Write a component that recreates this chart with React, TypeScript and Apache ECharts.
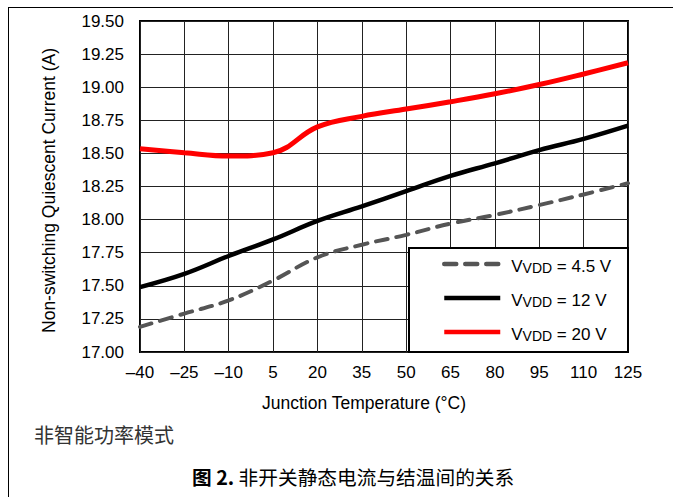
import React, { useEffect, useRef } from "react";
import * as echarts from "echarts";

const categories = ["–40", "–25", "–10", "5", "20", "35", "50", "65", "80", "95", "110", "125"];
const seriesNames = ["VVDD = 4.5 V", "VVDD = 12 V", "VVDD = 20 V"];
const vdd45 = [17.19, 17.29, 17.39, 17.54, 17.715, 17.81, 17.885, 17.97, 18.035, 18.11, 18.19, 18.275];
const vdd12 = [17.49, 17.59, 17.725, 17.85, 17.99, 18.1, 18.215, 18.33, 18.425, 18.525, 18.61, 18.71];
const vdd20 = [18.535, 18.505, 18.48, 18.505, 18.7, 18.78, 18.835, 18.89, 18.95, 19.02, 19.1, 19.185];
const xAxisTitle = "Junction Temperature (°C)";
const yAxisTitle = "Non-switching Quiescent Current (A)";
const noteText = "非智能功率模式";
const captionBold = "图 2.";
const captionRest = " 非开关静态电流与结温间的关系";

const LATIN = "'Liberation Sans', Arial, sans-serif";
const CJK = "'Noto Sans CJK SC', 'Liberation Sans', sans-serif";

export default function App() {
  const ref = useRef<HTMLDivElement>(null);

  useEffect(() => {
    if (!ref.current) return;
    const chart = echarts.init(ref.current, undefined, { renderer: "svg" });
    const gridLine = { show: true, lineStyle: { color: "#222", width: 1 } };
    chart.setOption({
      animation: false,
      backgroundColor: "#fff",
      grid: {
        left: 140,
        top: 21,
        width: 488,
        height: 331,
        show: true,
        borderColor: "#000",
        borderWidth: 2,
        backgroundColor: "transparent",
      },
      xAxis: {
        type: "category",
        data: categories,
        boundaryGap: false,
        axisLine: { show: false },
        axisTick: { show: false },
        splitLine: gridLine,
        axisLabel: {
          interval: 0,
          margin: 12,
          color: "#000",
          fontSize: 17,
          fontFamily: LATIN,
        },
        name: xAxisTitle,
        nameLocation: "middle",
        nameGap: 42,
        nameTextStyle: {
          color: "#000",
          fontSize: 17.5,
          fontFamily: LATIN,
          padding: [0, 40, 0, 0],
        },
      },
      yAxis: {
        type: "value",
        min: 17,
        max: 19.5,
        interval: 0.25,
        axisLine: { show: false },
        axisTick: { show: false },
        splitLine: gridLine,
        axisLabel: {
          margin: 16,
          color: "#000",
          fontSize: 17,
          fontFamily: LATIN,
          formatter: (v: number) => v.toFixed(2),
        },
        name: yAxisTitle,
        nameLocation: "middle",
        nameGap: 82,
        nameRotate: 90,
        nameTextStyle: {
          color: "#000",
          fontSize: 17.5,
          fontFamily: LATIN,
          padding: [0, 8, 0, 0],
        },
      },
      legend: {
        orient: "vertical",
        left: 442,
        top: 258,
        itemWidth: 56,
        itemHeight: 14,
        itemGap: 17,
        padding: 0,
        z: 200,
        data: seriesNames,
        itemStyle: { opacity: 0 },
        lineStyle: { width: 4.5 },
        formatter: (name: string) => {
          const rest = name.replace("VVDD", "");
          return `{v|V}{s|VDD}{v|${rest}}`;
        },
        textStyle: {
          padding: [0, 0, 0, 6],
          rich: {
            v: { fontSize: 17, lineHeight: 22, color: "#000", fontFamily: LATIN, verticalAlign: "bottom" },
            s: { fontSize: 14, lineHeight: 14, color: "#000", fontFamily: LATIN, verticalAlign: "bottom" },
          },
        },
      },
      graphic: [
        {
          type: "line",
          z: 50,
          shape: { x1: 8, y1: 7.5, x2: 673, y2: 7.5 },
          style: { stroke: "#000", lineWidth: 1 },
        },
        {
          type: "line",
          z: 50,
          shape: { x1: 8.5, y1: 7, x2: 8.5, y2: 497 },
          style: { stroke: "#000", lineWidth: 1 },
        },
        {
          type: "rect",
          z: 100,
          shape: { x: 409, y: 248, width: 219, height: 104 },
          style: { fill: "#fff", stroke: "#000", lineWidth: 2 },
        },
        {
          type: "text",
          z: 50,
          left: 34,
          top: 424,
          style: {
            text: noteText,
            fontSize: 20,
            fontFamily: CJK,
            fill: "#333",
          },
        },
        {
          type: "text",
          z: 50,
          left: 192,
          top: 467,
          style: {
            text: `{b|${captionBold}}{r|${captionRest}}`,
            rich: {
              b: { fontSize: 19.7, fontWeight: "bold", fontFamily: CJK, fill: "#000" },
              r: { fontSize: 19.7, fontFamily: CJK, fill: "#000" },
            },
          },
        },
      ],
      series: [
        {
          name: seriesNames[0],
          type: "line",
          data: vdd45,
          smooth: 0.4,
          symbol: "none",
          lineStyle: { color: "#555", width: 4, type: [12, 9], cap: "round" },
          itemStyle: { color: "#555" },
        },
        {
          name: seriesNames[1],
          type: "line",
          data: vdd12,
          smooth: 0.4,
          symbol: "none",
          lineStyle: { color: "#000", width: 4.5 },
          itemStyle: { color: "#000" },
        },
        {
          name: seriesNames[2],
          type: "line",
          data: vdd20,
          smooth: 0.4,
          symbol: "none",
          lineStyle: { color: "#ff0000", width: 5 },
          itemStyle: { color: "#ff0000" },
        },
      ],
    });
    return () => chart.dispose();
  }, []);

  return (
    <div
      ref={ref}
      style={{ position: "absolute", left: 0, top: 0, width: 673, height: 497 }}
    />
  );
}
